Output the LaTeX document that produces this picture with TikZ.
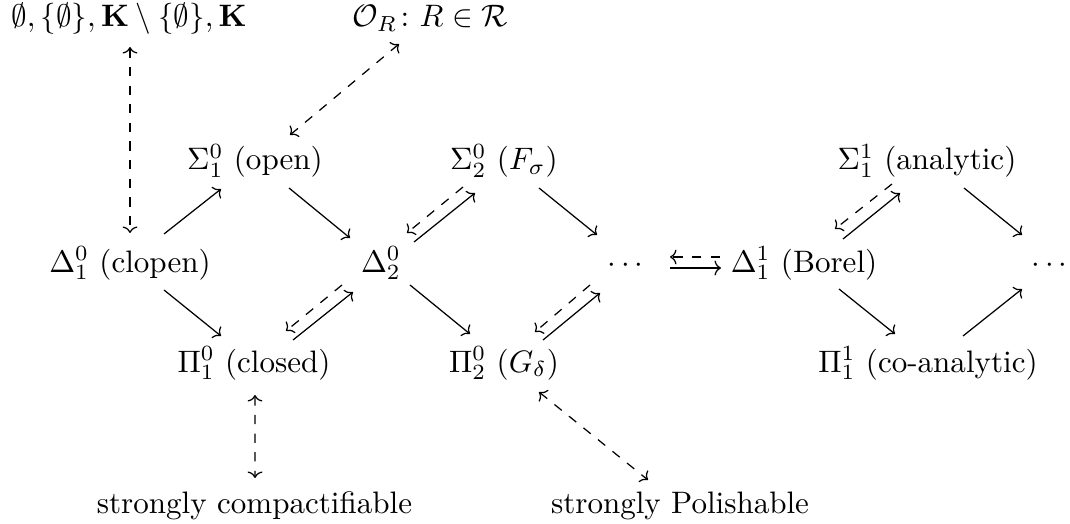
\documentclass[tikz,border=0pt]{standalone}
\usepackage{amsmath,amssymb}
\usetikzlibrary{arrows.meta,calc}
\tikzset{
  tipcm/.tip={Computer Modern Rightarrow[length=2.1pt,width=4.8pt]},
  cls/.style={anchor=base, inner sep=0pt, outer sep=0pt},
  imp/.style={-tipcm, line width=0.4pt},
  dimp/.style={imp, dashed},
  both/.style={tipcm-tipcm, dashed, line width=0.4pt}
}
\begin{document}
\begin{tikzpicture}[x=0.322pt, y=-0.322pt]
\useasboundingbox (0,0) rectangle (1070,524);
% nodes
\node[cls] (top1) at (129,27) {$\emptyset, \{\emptyset\}, \mathbf{K} \setminus \{\emptyset\}, \mathbf{K}$};
\node[cls] (top2) at (430,27) {$\mathcal{O}_R\colon R \in \mathcal{R}$};
\node[cls] (s01) at (255,170) {$\Sigma^0_1$ (open)};
\node[cls] (s02) at (504,170) {$\Sigma^0_2$ ($F_\sigma$)};
\node[cls] (s11) at (927,170) {$\Sigma^1_1$ (analytic)};
\node[cls] (d01) at (130,272) {$\Delta^0_1$ (clopen)};
\node[cls] (d02) at (381,272) {$\Delta^0_2$};
\node[cls] (dots1) at (628,272) {$\cdots$};
\node[cls] (d11) at (804,272) {$\Delta^1_1$ (Borel)};
\node[cls] (dots2) at (1052,272) {$\cdots$};
\node[cls] (p01) at (254,372) {$\Pi^0_1$ (closed)};
\node[cls] (p02) at (504,372) {$\Pi^0_2$ ($G_\delta$)};
\node[cls] (p11) at (928,372) {$\Pi^1_1$ (co-analytic)};
\node[cls] (sc) at (254.5,513) {strongly compactifiable};
\node[cls] (sp) at (680,513) {strongly Polishable};
% solid implications
\draw[imp] ($(d01.base)+(34,-38)$) -- ($(s01.base)+(-34,19)$);
\draw[imp] ($(s01.base)+(34,18)$) -- ($(d02.base)+(-31,-34)$);
\draw[imp] ($(d01.base)+(34,18)$) -- ($(p01.base)+(-33,-36)$);
\draw[imp] ($(p01.base)+(39,-32)$) -- ($(d02.base)+(-28,20)$);
\draw[dimp] ($(d02.base)+(-39,13)$) -- ($(p01.base)+(32,-41)$);
\draw[imp] ($(d02.base)+(33,-30)$) -- ($(s02.base)+(-29,23)$);
\draw[dimp] ($(s02.base)+(-41,17)$) -- ($(d02.base)+(26,-39)$);
\draw[imp] ($(s02.base)+(35,18)$) -- ($(dots1.base)+(-31,-37)$);
\draw[imp] ($(d02.base)+(29,13)$) -- ($(p02.base)+(-34,-38)$);
\draw[imp] ($(p02.base)+(39,-32)$) -- ($(dots1.base)+(-28,21)$);
\draw[dimp] ($(dots1.base)+(-38,13)$) -- ($(p02.base)+(31,-40)$);
\draw[imp] ($(dots1.base)+(42,-4)$) -- ($(d11.base)+(-83,-4)$);
\draw[dimp] ($(d11.base)+(-84,-15)$) -- ($(dots1.base)+(42,-15)$);
\draw[imp] ($(d11.base)+(39,-33)$) -- ($(s11.base)+(-27,23)$);
\draw[dimp] ($(s11.base)+(-35,14)$) -- ($(d11.base)+(31,-43)$);
\draw[imp] ($(s11.base)+(37,18)$) -- ($(dots2.base)+(-30,-37)$);
\draw[imp] ($(d11.base)+(35,17)$) -- ($(p11.base)+(-33,-38)$);
\draw[imp] ($(p11.base)+(35,-36)$) -- ($(dots2.base)+(-30,17)$);
% dashed two-way links
\draw[both] ($(top1.base)+(1,20)$) -- ($(d01.base)+(0,-39)$);
\draw[both] ($(top2.base)+(-31,17)$) -- ($(s01.base)+(35,-35)$);
\draw[both] ($(p01.base)+(1,23)$) -- ($(sc.base)+(0.5,-35)$);
\draw[both] ($(p02.base)+(35,20)$) -- ($(sp.base)+(-32,-33)$);
\end{tikzpicture}
\end{document}
